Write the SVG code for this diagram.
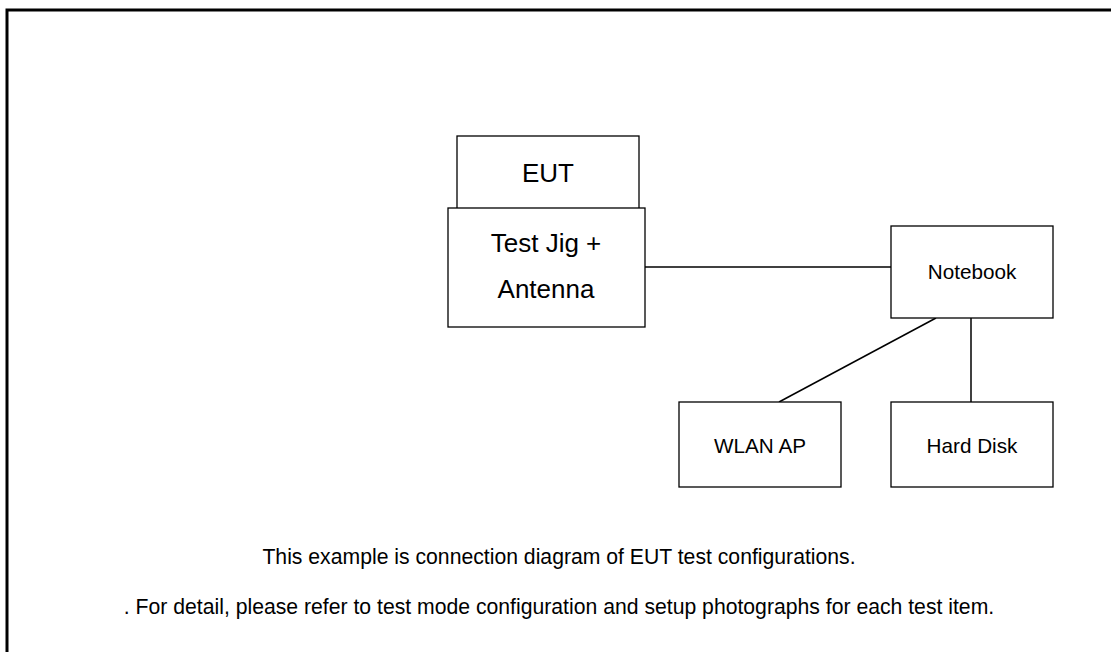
<svg xmlns="http://www.w3.org/2000/svg" width="1111" height="652" viewBox="0 0 1111 652">
<style>
.box{fill:#fff;stroke:#000;stroke-width:1.3}
.ln{stroke:#000;stroke-width:1.5;fill:none}
.big{font-family:"Liberation Sans",Arial,sans-serif;font-size:26px;text-anchor:middle;fill:#000}
.sm{font-family:"Liberation Sans",Arial,sans-serif;font-size:20.7px;text-anchor:middle;fill:#000}
.cap{font-family:"Liberation Sans",Arial,sans-serif;font-size:21.2px;text-anchor:middle;fill:#000}
</style>
<rect width="1111" height="652" fill="#fff"/>
<path d="M7,652 V10 H1111" fill="none" stroke="#000" stroke-width="3"/>
<g id="connectors">
<line class="ln" x1="645" y1="267" x2="891" y2="267"/>
<line class="ln" x1="936" y1="318" x2="779" y2="402"/>
<line class="ln" x1="971" y1="318" x2="971" y2="402"/>
</g>
<g id="eut"><rect class="box" x="457" y="136" width="182" height="73"/><text class="big" x="548" y="182">EUT</text></g>
<g id="testjig"><rect class="box" x="448" y="208" width="197" height="119"/><text class="big" x="546" y="252">Test Jig +</text><text class="big" x="546" y="298">Antenna</text></g>
<g id="notebook"><rect class="box" x="891" y="226" width="162" height="92"/><text class="sm" x="972" y="279">Notebook</text></g>
<g id="wlan"><rect class="box" x="679" y="402" width="162" height="85"/><text class="sm" x="760" y="453">WLAN AP</text></g>
<g id="harddisk"><rect class="box" x="891" y="402" width="162" height="85"/><text class="sm" x="972" y="453">Hard Disk</text></g>
<text class="cap" x="559" y="564">This example is connection diagram of EUT test configurations.</text>
<text class="cap" x="559" y="614">. For detail, please refer to test mode configuration and setup photographs for each test item.</text>
</svg>
